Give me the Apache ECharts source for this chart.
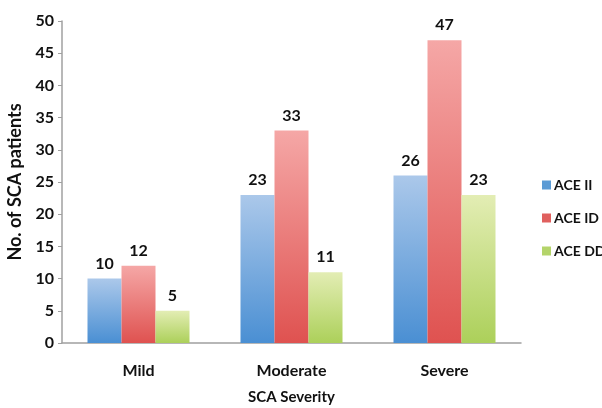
<!DOCTYPE html>
<html>
<head>
<meta charset="utf-8">
<script src="https://cdn.jsdelivr.net/npm/echarts@6/dist/echarts.min.js"></script>
<style>
  html, body { margin: 0; padding: 0; background: #fff; }
  #chart { width: 602px; height: 408px; }
</style>
</head>
<body>
<div id="chart"></div>
<script>
// Patient counts per genotype across SCA severity groups
const categories = ['Mild', 'Moderate', 'Severe'];
const aceII = [10, 23, 26];
const aceID = [12, 33, 47];
const aceDD = [5, 11, 23];
const seriesNames = ['ACE II', 'ACE ID', 'ACE DD'];

const FONT = 'Lato';

function grad(top, bottom) {
  return new echarts.graphic.LinearGradient(0, 0, 0, 1, [
    { offset: 0, color: top },
    { offset: 1, color: bottom }
  ]);
}

const palettes = [
  ['#abc8ea', '#4a8fd3'],
  ['#f5a7a6', '#df5250'],
  ['#e3edb4', '#acd05a']
];
const legendColors = ['#5b9bd5', '#e0605e', '#b4d46a'];

function makeSeries(name, data, idx) {
  return {
    name: name,
    type: 'bar',
    data: data,
    barWidth: 34,
    barGap: '0%',
    itemStyle: { color: grad(palettes[idx][0], palettes[idx][1]) },
    label: {
      show: true,
      position: 'top',
      distance: 7,
      color: '#111',
      fontFamily: FONT,
      fontWeight: 'bold',
      fontSize: 16
    }
  };
}

const chart = echarts.init(document.getElementById('chart'), null, { renderer: 'canvas' });
chart.setOption({
  animation: false,
  backgroundColor: '#ffffff',
  grid: { left: 62, right: 81, top: 21, bottom: 65, containLabel: false, outerBoundsMode: 'none' },
  legend: {
    orient: 'vertical',
    left: 537,
    top: 173,
    itemWidth: 9,
    itemHeight: 9,
    itemGap: 19,
    icon: 'rect',
    data: seriesNames.map((n, i) => ({ name: n, itemStyle: { color: legendColors[i] } })),
    textStyle: { fontFamily: FONT, fontWeight: 'bold', fontSize: 14, color: '#111', padding: [0, 0, 0, -2] }
  },
  xAxis: {
    type: 'category',
    data: categories,
    name: 'SCA Severity',
    nameLocation: 'middle',
    nameGap: 47,
    nameTextStyle: { fontFamily: FONT, fontWeight: 'bold', fontSize: 15, color: '#111' },
    axisLine: { lineStyle: { color: '#a0a0a0', width: 1.5 } },
    axisTick: { show: false },
    axisLabel: { fontFamily: FONT, fontWeight: 'bold', fontSize: 16, color: '#111', margin: 20 }
  },
  yAxis: {
    type: 'value',
    min: 0,
    max: 50,
    interval: 5,
    name: 'No. of SCA patients',
    nameLocation: 'middle',
    nameGap: 33,
    nameTextStyle: { fontFamily: FONT, fontWeight: 'bold', fontSize: 18, color: '#111' },
    axisLine: { show: true, lineStyle: { color: '#a0a0a0', width: 1.5 } },
    axisTick: { show: true, length: 4, lineStyle: { color: '#a0a0a0' } },
    splitLine: { show: false },
    axisLabel: { fontFamily: FONT, fontWeight: 'bold', fontSize: 16, color: '#111', margin: 8 }
  },
  series: [
    makeSeries(seriesNames[0], aceII, 0),
    makeSeries(seriesNames[1], aceID, 1),
    makeSeries(seriesNames[2], aceDD, 2)
  ]
});
</script>
</body>
</html>
